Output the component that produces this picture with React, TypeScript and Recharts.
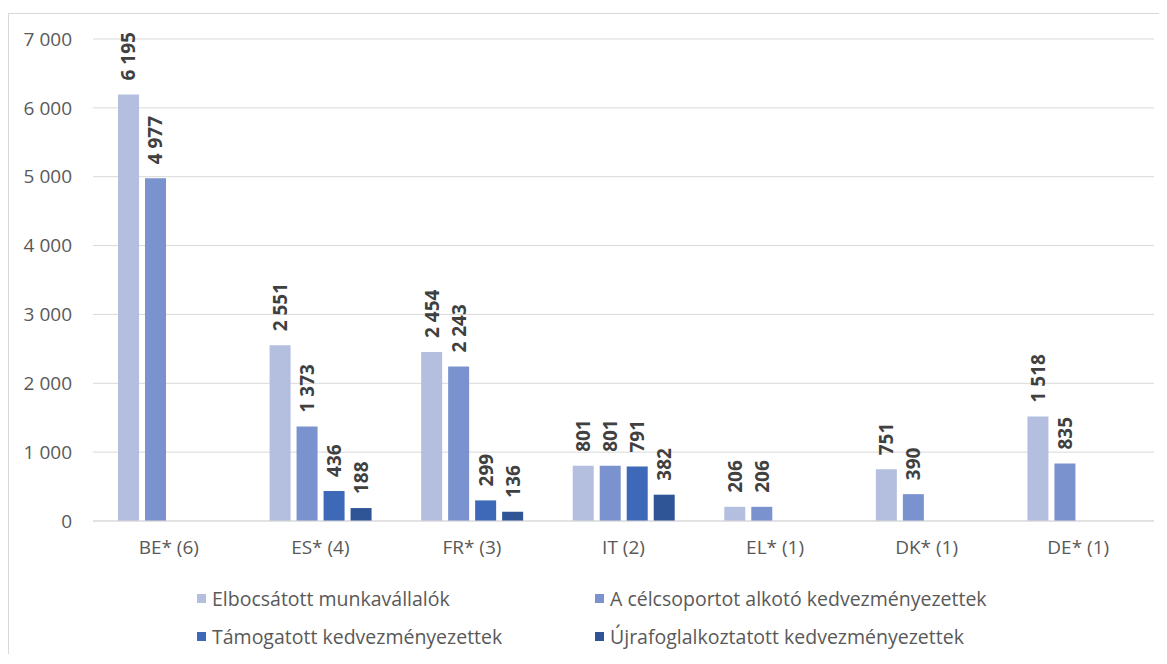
import React from 'react'
import { BarChart, Bar, XAxis, YAxis, CartesianGrid, Legend } from 'recharts'

const categories = ['BE* (6)', 'ES* (4)', 'FR* (3)', 'IT (2)', 'EL* (1)', 'DK* (1)', 'DE* (1)']
const elbocsatott = [6195, 2551, 2454, 801, 206, 751, 1518]
const celcsoport = [4977, 1373, 2243, 801, 206, 390, 835]
const tamogatott = [null, 436, 299, 791, null, null, null]
const ujrafoglalkoztatott = [null, 188, 136, 382, null, null, null]
const yTicks = [0, 1000, 2000, 3000, 4000, 5000, 6000, 7000]

const SERIES = [
  { key: 'a', name: 'Elbocsátott munkavállalók', color: '#B4BFDF' },
  { key: 'b', name: 'A célcsoportot alkotó kedvezményezettek', color: '#7A92CE' },
  { key: 'c', name: 'Támogatott kedvezményezettek', color: '#3E68B8' },
  { key: 'd', name: 'Újrafoglalkoztatott kedvezményezettek', color: '#2F5597' },
]

const data = categories.map((name, i) => ({
  name,
  a: elbocsatott[i],
  b: celcsoport[i],
  c: tamogatott[i],
  d: ujrafoglalkoztatott[i],
}))

const fmt = (v: number) => String(v).replace(/\B(?=(\d{3})+(?!\d))/g, ' ')

const FONT = '"Open Sans", sans-serif'

const renderLabel = (props: any) => {
  const { x, y, width, value } = props
  if (value == null) return null
  const cx = x + width / 2
  const ty = y - 14
  return (
    <text
      x={cx}
      y={ty}
      transform={`rotate(-90 ${cx} ${ty})`}
      textAnchor="start"
      dominantBaseline="central"
      fontWeight="bold"
      fontSize={19}
      fontFamily={FONT}
      fill="#404040"
    >
      {fmt(value)}
    </text>
  )
}

const LegendContent = () => {
  const pos = [
    { left: 188, top: 14 },
    { left: 586, top: 14 },
    { left: 188, top: 52 },
    { left: 586, top: 52 },
  ]
  return (
    <div style={{ position: 'relative', width: 1157, height: 0 }}>
      {SERIES.map((s, i) => (
        <div
          key={s.key}
          style={{
            position: 'absolute',
            left: pos[i].left,
            top: pos[i].top - 13,
            height: 26,
            display: 'flex',
            alignItems: 'center',
            whiteSpace: 'nowrap',
            fontFamily: FONT,
            fontSize: 19.5,
            color: '#595959',
          }}
        >
          <span style={{ display: 'inline-block', width: 9, height: 9, background: s.color, marginRight: 6 }} />
          {s.name}
        </div>
      ))}
    </div>
  )
}

export default function App() {
  return (
    <div style={{ paddingTop: 5 }}>
      <div
        style={{
          width: 1157,
          height: 640,
          border: '1px solid #d9d9d9',
          borderBottom: 'none',
          background: '#fff',
        }}
      >
        <BarChart
          width={1157}
          height={640}
          data={data}
          margin={{ top: 25, right: 12, left: 0, bottom: 103 }}
          barSize={21}
          barGap={6}
        >
          <CartesianGrid vertical={false} stroke="#d9d9d9" strokeWidth={1} />
          <XAxis
            dataKey="name"
            height={30}
            axisLine={{ stroke: '#d9d9d9' }}
            tickLine={false}
            tickSize={6}
            tickMargin={14}
            tick={{ fill: '#595959', fontSize: 19, fontFamily: FONT }}
            interval={0}
          />
          <YAxis
            width={84}
            domain={[0, 7000]}
            ticks={yTicks}
            axisLine={false}
            tickLine={false}
            tickSize={6}
            tickMargin={15}
            tickFormatter={fmt}
            tick={{ fill: '#595959', fontSize: 19, fontFamily: FONT }}
          />
          <Legend
            content={<LegendContent />}
            wrapperStyle={{ position: 'absolute', top: 570, left: 0, width: 1157, height: 0, overflow: 'visible' }}
          />
          {SERIES.map((s) => (
            <Bar
              key={s.key}
              dataKey={s.key}
              name={s.name}
              fill={s.color}
              isAnimationActive={false}
              label={renderLabel}
            />
          ))}
        </BarChart>
      </div>
    </div>
  )
}
